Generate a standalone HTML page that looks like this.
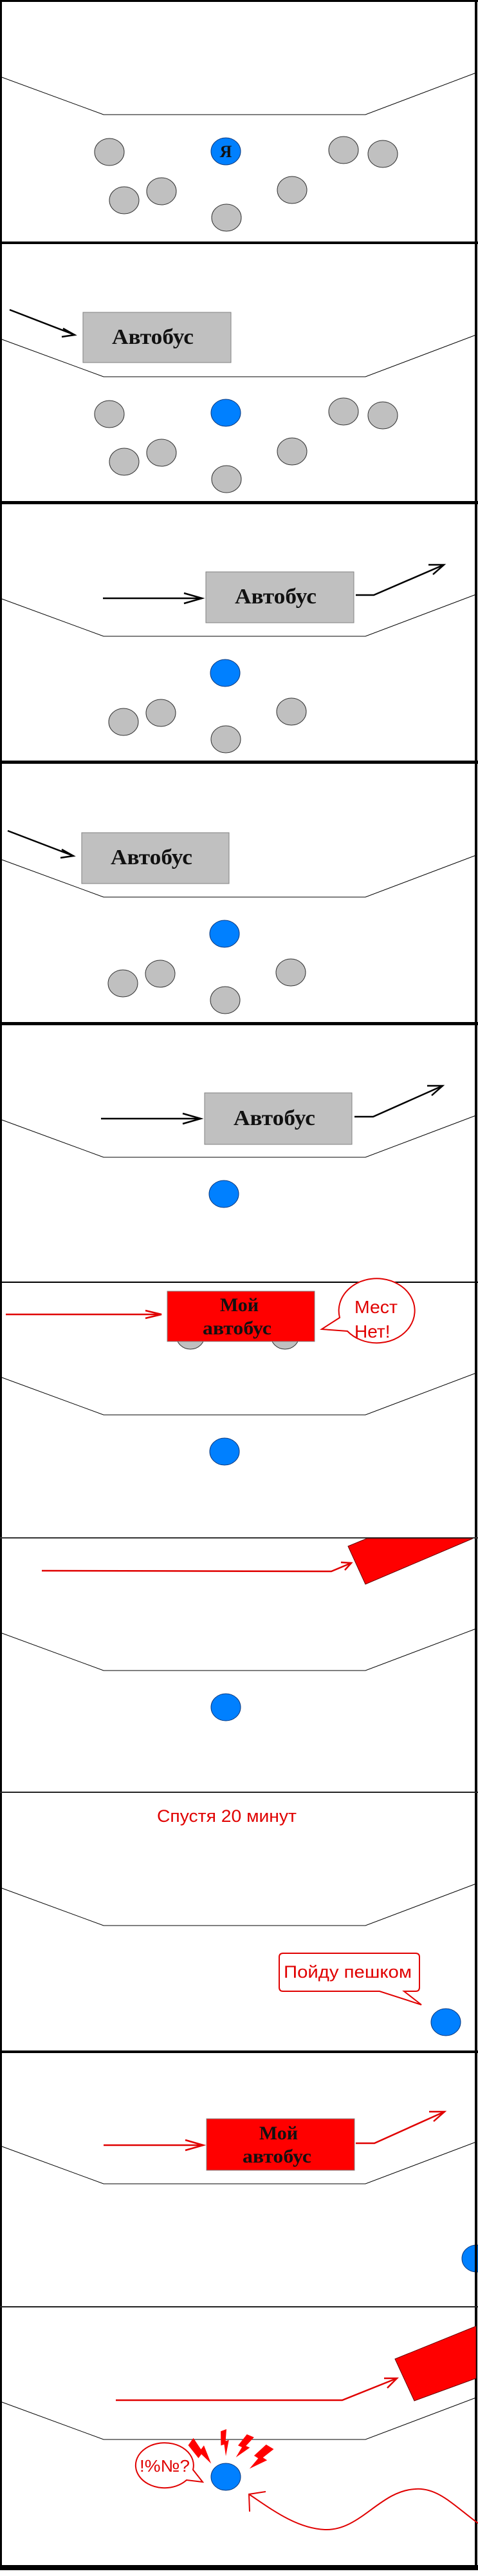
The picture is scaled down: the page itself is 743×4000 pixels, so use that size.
<!DOCTYPE html>
<html><head><meta charset="utf-8"><style>
html,body{margin:0;padding:0;background:#fff}
svg{display:block}
.road{fill:none;stroke:#000;stroke-width:1}
.g{fill:#c0c0c0;stroke:#333;stroke-width:1}
.b{fill:#0080ff;stroke:#0a3a80;stroke-width:1}
.bus{fill:#c0c0c0;stroke:#808080;stroke-width:1}
.rbus{fill:#ff0000;stroke:#808080;stroke-width:1}
.ar{fill:none;stroke:#000;stroke-width:2.5}
.rar{fill:none;stroke:#e00000;stroke-width:2.5}
.bt{font-family:"Liberation Serif",serif;font-weight:bold;fill:#111}
.st{font-family:"Liberation Sans",sans-serif;fill:#e00000}
</style></head><body>
<svg width="743" height="4000" viewBox="0 0 743 4000" xmlns="http://www.w3.org/2000/svg">
<rect width="743" height="4000" fill="#fff"/>
<!-- borders -->
<rect x="0" y="0" width="743" height="3" fill="#000"/>
<rect x="0" y="0" width="3" height="3990" fill="#000"/>
<rect x="738" y="0" width="4" height="3990" fill="#000"/>
<rect x="0" y="375" width="743" height="4" fill="#000"/>
<rect x="0" y="778" width="743" height="5" fill="#000"/>
<rect x="0" y="1181" width="743" height="5" fill="#000"/>
<rect x="0" y="1587" width="743" height="5" fill="#000"/>
<rect x="0" y="1990" width="743" height="2" fill="#000"/>
<rect x="0" y="2387" width="743" height="2" fill="#333"/>
<rect x="0" y="2782" width="743" height="2" fill="#222"/>
<rect x="0" y="3184" width="743" height="4" fill="#000"/>
<rect x="0" y="3581" width="743" height="2" fill="#222"/>
<rect x="0" y="3983" width="743" height="8" fill="#000"/>

<!-- roads -->
<g class="road">
<polyline points="3,120 161,178 568,178 740,113"/>
<polyline points="3,527 161,585 568,585 740,520"/>
<polyline points="3,930 161,988 568,988 740,923"/>
<polyline points="3,1335 161,1393 568,1393 740,1328"/>
<polyline points="3,1739 161,1797 568,1797 740,1732"/>
<polyline points="3,2139 161,2197 568,2197 740,2132"/>
<polyline points="3,2536 161,2594 568,2594 740,2529"/>
<polyline points="3,2932 161,2990 568,2990 740,2925"/>
<polyline points="3,3333 161,3391 568,3391 740,3326"/>
<polyline points="3,3730 161,3788 568,3788 740,3723"/>
</g>

<!-- Panel 1 -->
<ellipse class="g" cx="170" cy="236" rx="23" ry="21"/>
<ellipse class="b" cx="351" cy="235" rx="23" ry="21"/>
<text class="bt" x="351" y="244" font-size="26" text-anchor="middle">Я</text>
<ellipse class="g" cx="534" cy="233" rx="23" ry="21"/>
<ellipse class="g" cx="595" cy="239" rx="23" ry="21"/>
<ellipse class="g" cx="193" cy="311" rx="23" ry="21"/>
<ellipse class="g" cx="251" cy="297" rx="23" ry="21"/>
<ellipse class="g" cx="454" cy="295" rx="23" ry="21"/>
<ellipse class="g" cx="352" cy="338" rx="23" ry="21"/>

<!-- Panel 2 -->
<line class="ar" x1="15" y1="481" x2="116" y2="520"/>
<polyline class="ar" points="98,510 116,520 96,523"/>
<rect class="bus" x="129" y="485" width="230" height="78"/>
<text class="bt" x="174" y="534" font-size="34" textLength="127" lengthAdjust="spacingAndGlyphs">Автобус</text>
<ellipse class="g" cx="170" cy="643" rx="23" ry="21"/>
<ellipse class="b" cx="351" cy="641" rx="23" ry="21"/>
<ellipse class="g" cx="534" cy="639" rx="23" ry="21"/>
<ellipse class="g" cx="595" cy="645" rx="23" ry="21"/>
<ellipse class="g" cx="193" cy="717" rx="23" ry="21"/>
<ellipse class="g" cx="251" cy="703" rx="23" ry="21"/>
<ellipse class="g" cx="454" cy="701" rx="23" ry="21"/>
<ellipse class="g" cx="352" cy="744" rx="23" ry="21"/>

<!-- Panel 3 -->
<line class="ar" x1="160" y1="929" x2="314" y2="929"/>
<polyline class="ar" points="286,921 314,929 286,937"/>
<rect class="bus" x="320" y="888" width="230" height="79"/>
<text class="bt" x="365" y="937" font-size="34" textLength="127" lengthAdjust="spacingAndGlyphs">Автобус</text>
<polyline class="ar" points="553,924 581,924 690,877"/>
<polyline class="ar" points="666,877 690,877 673,892"/>
<ellipse class="b" cx="350" cy="1045" rx="23" ry="21"/>
<ellipse class="g" cx="192" cy="1121" rx="23" ry="21"/>
<ellipse class="g" cx="250" cy="1107" rx="23" ry="21"/>
<ellipse class="g" cx="453" cy="1105" rx="23" ry="21"/>
<ellipse class="g" cx="351" cy="1148" rx="23" ry="21"/>

<!-- Panel 4 -->
<line class="ar" x1="12" y1="1290" x2="114" y2="1329"/>
<polyline class="ar" points="96,1319 114,1329 94,1332"/>
<rect class="bus" x="127" y="1293" width="229" height="79"/>
<text class="bt" x="172" y="1342" font-size="34" textLength="127" lengthAdjust="spacingAndGlyphs">Автобус</text>
<ellipse class="b" cx="349" cy="1450" rx="23" ry="21"/>
<ellipse class="g" cx="191" cy="1527" rx="23" ry="21"/>
<ellipse class="g" cx="249" cy="1512" rx="23" ry="21"/>
<ellipse class="g" cx="452" cy="1510" rx="23" ry="21"/>
<ellipse class="g" cx="350" cy="1553" rx="23" ry="21"/>

<!-- Panel 5 -->
<line class="ar" x1="157" y1="1737" x2="312" y2="1737"/>
<polyline class="ar" points="284,1729 312,1737 284,1745"/>
<rect class="bus" x="318" y="1697" width="229" height="80"/>
<text class="bt" x="363" y="1747" font-size="34" textLength="127" lengthAdjust="spacingAndGlyphs">Автобус</text>
<polyline class="ar" points="551,1734 580,1734 688,1686"/>
<polyline class="ar" points="664,1686 688,1686 671,1701"/>
<ellipse class="b" cx="348" cy="1854" rx="23" ry="21"/>

<!-- Panel 6 -->
<line class="rar" x1="9" y1="2041" x2="251" y2="2041"/>
<polyline class="rar" points="226,2035 251,2041 226,2047"/>
<ellipse class="g" cx="296" cy="2074" rx="22" ry="21"/>
<ellipse class="g" cx="443" cy="2074" rx="22" ry="21"/>
<rect class="rbus" x="260" y="2005" width="229" height="78"/>
<text class="bt" x="372" y="2036" font-size="30" text-anchor="middle">Мой</text>
<text class="bt" x="315" y="2072" font-size="30" textLength="107" lengthAdjust="spacingAndGlyphs">автобус</text>
<path d="M500,2064 L540,2067 A59,50 0 1 0 528,2046 Z" fill="#fff" stroke="#e00000" stroke-width="2"/>
<text class="st" x="551" y="2039" font-size="28" textLength="67" lengthAdjust="spacingAndGlyphs">Мест</text>
<text class="st" x="551" y="2077" font-size="28">Нет!</text>
<ellipse class="b" cx="349" cy="2254" rx="23" ry="21"/>

<!-- Panel 7 -->
<polygon points="541,2401 570,2389 735,2389 568,2460" fill="#ff0000" stroke="#600" stroke-width="1"/>
<polyline class="rar" points="65,2439 515,2440 546,2427"/>
<polyline class="rar" points="530,2426 546,2427 536,2438"/>
<ellipse class="b" cx="351" cy="2651" rx="23" ry="21"/>

<!-- Panel 8 -->
<text class="st" x="244" y="2829" font-size="27" textLength="217" lengthAdjust="spacingAndGlyphs">Спустя 20 минут</text>
<path d="M440,3033 H646 Q652,3033 652,3039 V3086 Q652,3092 646,3092 H628 L655,3113 L590,3092 H440 Q434,3092 434,3086 V3039 Q434,3033 440,3033 Z" fill="#fff" stroke="#e00000" stroke-width="2"/>
<text class="st" x="441" y="3071" font-size="27" textLength="199" lengthAdjust="spacingAndGlyphs">Пойду пешком</text>
<ellipse class="b" cx="693" cy="3140" rx="23" ry="21"/>

<!-- Panel 9 -->
<line class="rar" x1="161" y1="3331" x2="316" y2="3331"/>
<polyline class="rar" points="288,3323 316,3331 288,3339"/>
<rect class="rbus" x="321" y="3290" width="230" height="80"/>
<text class="bt" x="433" y="3322" font-size="30" text-anchor="middle">Мой</text>
<text class="bt" x="377" y="3358" font-size="30" textLength="107" lengthAdjust="spacingAndGlyphs">автобус</text>
<polyline class="rar" points="553,3328 582,3328 691,3279"/>
<polyline class="rar" points="667,3279 691,3279 674,3294"/>
<ellipse class="b" cx="741" cy="3507" rx="23" ry="21"/>
<rect x="738" y="3480" width="4" height="60" fill="#000"/>

<!-- Panel 10 -->
<polygon points="614,3663 740,3612 740,3693 644,3728" fill="#ff0000" stroke="#600" stroke-width="1"/>
<polyline class="rar" points="180,3727 532,3727 617,3693"/>
<polyline class="rar" points="597,3693 617,3693 602,3708"/>
<ellipse class="b" cx="351" cy="3846" rx="23" ry="21"/>
<path d="M315,3854 L290,3851 A45,35 0 1 1 300,3835 Z" fill="#fff" stroke="#e00000" stroke-width="2"/>
<text class="st" x="217" y="3838" font-size="26" textLength="78" lengthAdjust="spacingAndGlyphs">!%№?</text>
<g fill="#ff0000">
<polygon transform="translate(297,3793) rotate(-42) scale(1.5)" points="-4,0 5,-2 3,12 8,11 1,30 0,16 -5,17"/>
<polygon transform="translate(347,3775) rotate(-4) scale(1.3)" points="-3,0 4,-2 2,12 6,11 1,30 0,16 -4,17"/>
<polygon transform="translate(388,3783) rotate(35) scale(1.3)" points="-4,0 5,-2 3,12 8,11 1,30 0,16 -5,17"/>
<polygon transform="translate(418,3800) rotate(44) scale(1.5)" points="-4,0 5,-2 3,12 8,11 1,30 0,16 -5,17"/>
</g>
<path d="M743,3918 C705,3890 680,3862 645,3865 C590,3868 560,3930 505,3928 C460,3926 420,3895 387,3873" fill="none" stroke="#e00000" stroke-width="2"/>
<polyline points="413,3869 387,3873 388,3900" fill="none" stroke="#e00000" stroke-width="2"/>
</svg>
</body></html>
